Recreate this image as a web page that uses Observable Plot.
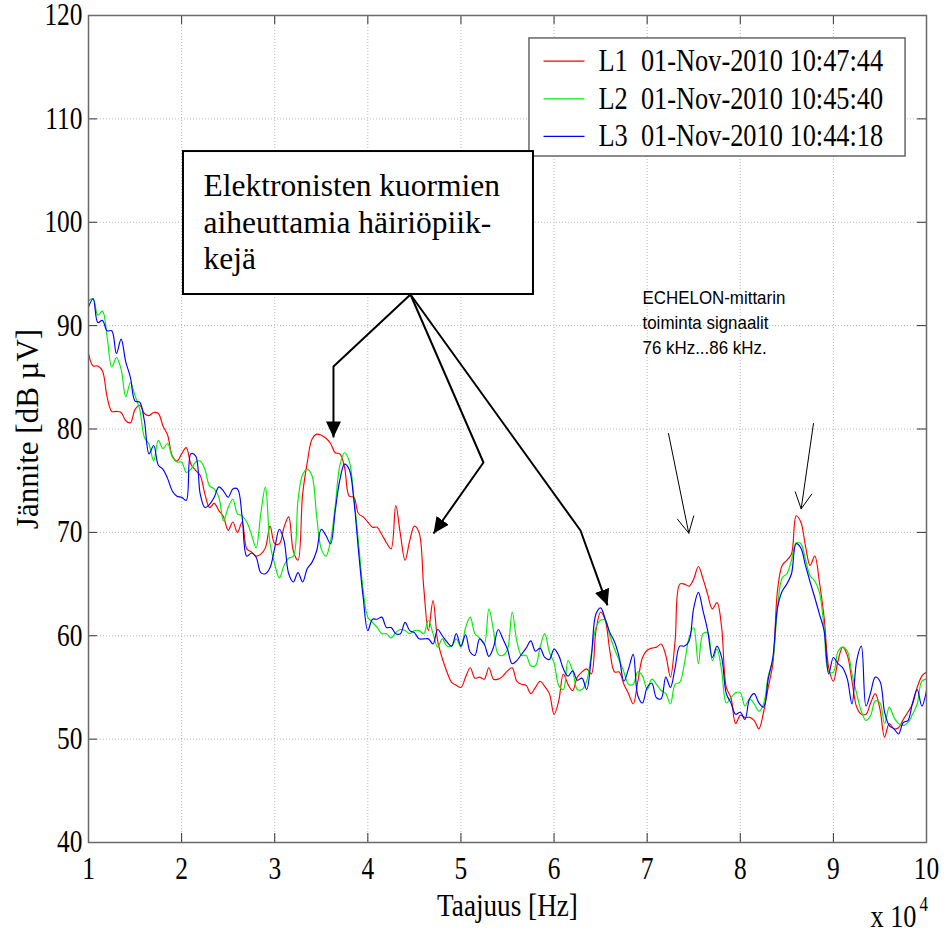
<!DOCTYPE html>
<html>
<head>
<meta charset="utf-8">
<script src="https://cdn.jsdelivr.net/npm/d3@7"></script>
<script src="https://cdn.jsdelivr.net/npm/@observablehq/plot@0.6"></script>
<style>
  html, body { margin: 0; padding: 0; background: #fff; }
  #chart svg text { white-space: pre; }
</style>
</head>
<body>
<div id="chart"></div>
<script>
// Frequency grid in units of 10^4 Hz (10 kHz ... 100 kHz, 500 Hz step)
const freq = d3.range(181).map(i => +(1 + i * 0.05).toFixed(2));

// Measured spectra, dB µV
const L1 = [
  87.3, 86.1, 86.1, 85.6, 83.1, 81.7, 81.7, 81.6, 80.8, 80.6,
  81.9, 82.3, 81.5, 81.3, 81.6, 81.5, 80.3, 79.4, 77.4, 76.9,
  77.6, 78.2, 76.6, 76.0, 75.5, 73.7, 72.4, 72.8, 72.1, 71.5,
  70.2, 71.0, 70.0, 71.0, 68.4, 68.1, 67.7, 67.9, 68.5, 70.6,
  68.9, 68.9, 70.5, 71.5, 68.2, 67.3, 73.7, 76.8, 79.0, 79.5,
  79.4, 79.1, 78.6, 77.7, 77.6, 76.3, 73.5, 73.4, 71.8, 71.5,
  71.0, 70.5, 70.5, 69.8, 69.0, 68.4, 72.6, 69.8, 67.3, 69.2,
  70.6, 70.0, 64.7, 60.5, 63.4, 59.5, 57.8, 56.5, 55.5, 55.2,
  55.0, 56.0, 56.9, 55.9, 56.0, 55.8, 56.9, 55.8, 55.8, 56.1,
  56.6, 56.9, 55.6, 55.3, 55.2, 54.4, 55.0, 55.6, 55.1, 54.4,
  52.4, 53.7, 56.3, 55.3, 54.7, 56.0, 56.5, 56.8, 56.3, 60.5,
  62.3, 61.5, 58.5, 56.5, 56.5, 55.3, 54.4, 53.4, 55.6, 57.9,
  58.6, 58.8, 58.9, 59.2, 58.1, 56.0, 59.5, 65.0, 65.0, 64.8,
  65.5, 66.7, 65.5, 64.0, 62.6, 63.2, 60.8, 55.0, 54.0, 51.5,
  52.3, 52.1, 52.1, 51.8, 51.0, 52.6, 55.0, 57.3, 64.4, 66.8,
  67.3, 67.9, 71.6, 71.0, 68.7, 66.8, 67.7, 65.2, 61.8, 56.9,
  55.6, 57.6, 58.9, 58.1, 55.6, 53.1, 52.4, 52.4, 53.5, 54.4,
  52.9, 50.2, 51.5, 51.0, 51.1, 51.9, 52.6, 53.4, 55.0, 56.1,
  56.5
];
const L2 = [
  92.4, 92.6, 91.0, 91.4, 88.9, 86.0, 86.9, 85.8, 83.1, 84.5,
  83.2, 81.9, 79.2, 78.5, 76.9, 78.9, 78.1, 78.6, 77.3, 76.8,
  76.8, 75.8, 76.1, 76.8, 76.9, 76.1, 74.5, 74.2, 73.4, 71.1,
  72.4, 73.2, 71.8, 71.6, 71.0, 69.8, 68.5, 71.8, 74.4, 68.9,
  66.9, 65.6, 66.8, 67.5, 67.7, 73.1, 75.6, 76.1, 75.5, 71.6,
  68.4, 67.7, 69.2, 72.6, 76.5, 77.7, 76.9, 73.4, 69.0, 64.4,
  61.8, 61.3, 60.8, 60.2, 60.2, 59.8, 60.3, 60.6, 60.5, 60.2,
  60.5, 60.5, 60.2, 61.5, 60.2, 58.9, 59.7, 59.0, 59.0, 59.7,
  58.9, 60.8, 61.8, 60.2, 59.8, 59.2, 62.6, 60.5, 58.2, 58.1,
  58.7, 62.3, 59.5, 58.1, 58.1, 57.1, 57.1, 58.9, 60.2, 58.4,
  57.4, 55.2, 54.8, 57.6, 56.6, 54.8, 54.8, 55.6, 58.2, 60.8,
  61.5, 61.5, 60.0, 58.7, 57.6, 56.5, 55.3, 55.3, 56.5, 56.1,
  54.8, 55.8, 55.3, 54.7, 54.4, 53.4, 55.3, 55.5, 57.3, 59.8,
  60.8, 57.3, 60.2, 60.3, 57.6, 58.7, 56.6, 53.5, 54.0, 54.5,
  54.5, 53.2, 53.9, 53.4, 52.7, 53.4, 56.1, 57.7, 62.7, 65.6,
  66.0, 67.3, 69.0, 68.9, 67.4, 65.8, 65.3, 64.2, 60.8, 56.5,
  56.5, 58.5, 58.9, 58.5, 56.3, 54.4, 52.7, 51.8, 52.3, 53.7,
  53.5, 51.5, 53.1, 52.1, 51.5, 51.3, 51.6, 52.4, 53.4, 55.6,
  55.8
];
const L3 = [
  91.8, 92.6, 90.3, 90.5, 89.5, 89.5, 87.3, 88.7, 86.5, 85.0,
  82.7, 82.6, 80.8, 77.6, 78.4, 76.5, 76.1, 75.2, 74.0, 73.5,
  73.4, 73.1, 77.6, 77.4, 73.7, 72.4, 72.7, 73.4, 74.4, 74.0,
  73.4, 74.2, 74.2, 71.5, 67.7, 68.0, 67.6, 66.1, 66.0, 66.6,
  68.5, 70.3, 69.2, 66.0, 65.2, 66.1, 65.2, 66.5, 67.1, 68.2,
  70.3, 69.7, 68.9, 72.1, 75.1, 76.6, 76.1, 73.1, 68.2, 63.7,
  60.5, 61.6, 61.6, 61.8, 60.8, 60.8, 60.2, 60.2, 61.3, 60.5,
  60.3, 59.7, 59.7, 59.7, 59.2, 60.6, 60.0, 59.4, 59.0, 60.2,
  59.0, 60.1, 58.4, 58.1, 59.7, 59.2, 58.0, 58.9, 60.6, 59.7,
  58.7, 57.3, 57.6, 58.2, 58.8, 59.5, 58.5, 58.8, 57.9, 57.7,
  58.7, 58.1, 56.8, 56.1, 56.6, 55.7, 55.9, 54.8, 57.9, 62.1,
  62.7, 61.6, 60.3, 59.4, 57.9, 55.6, 56.8, 58.2, 54.2, 53.5,
  55.0, 55.4, 54.0, 53.9, 56.0, 55.0, 56.9, 59.0, 59.0, 59.5,
  62.7, 64.2, 62.4, 60.5, 57.9, 59.0, 57.9, 54.4, 53.5, 52.4,
  52.6, 51.9, 53.9, 54.4, 53.5, 53.1, 55.8, 57.9, 62.7, 64.3,
  65.0, 66.0, 68.9, 68.5, 66.8, 65.2, 63.7, 62.1, 60.5, 56.3,
  57.9, 57.3, 56.9, 55.8, 53.4, 57.6, 59.0, 53.2, 54.5, 56.0,
  55.6, 52.6, 51.3, 51.0, 50.5, 51.6, 51.8, 53.5, 54.8, 53.2,
  54.7
];

const seriesNames  = ["L1", "L2", "L3"];
const seriesTimes  = ["01-Nov-2010 10:47:44", "01-Nov-2010 10:45:40", "01-Nov-2010 10:44:18"];
const seriesColors = ["#ff0000", "#00ee00", "#0000ff"];
const seriesValues = [L1, L2, L3];

const xTicks = [1, 2, 3, 4, 5, 6, 7, 8, 9, 10];
const yTicks = [40, 50, 60, 70, 80, 90, 100, 110, 120];

const boxText = "Elektronisten kuormien\naiheuttamia häiriöpiik-\nkejä";
const echelonLines = ["ECHELON-mittarin", "toiminta signaalit", "76 kHz...86 kHz."];

// Callout geometry in data coordinates (x in 10^4 Hz, y in dB µV)
const calloutPaths = [
  [[4.458, 93.01], [3.631, 86.05], [3.631, 79.18]],
  [[4.458, 93.01], [5.242, 76.76], [4.705, 69.89]],
  [[4.458, 93.01], [6.284, 70.18], [6.574, 62.93]]
];
const echelonArrows = [
  {x1: 7.229, y1: 79.56, x2: 7.447, y2: 69.92},
  {x1: 8.786, y1: 80.53, x2: 8.654, y2: 72.28}
];

const calloutRows = calloutPaths.flatMap((p, id) => p.map(([x, y]) => ({id, x, y})));

// Legend placement (data coordinates)
const legendBox = {x1: 5.736, x2: 9.775, y1: 117.78, y2: 106.36};
const legendRowY = i => 115.58 - i * 3.64;
const legendRows = seriesNames.map((name, i) => ({
  label: `${name}  ${seriesTimes[i]}`, color: seriesColors[i], y: legendRowY(i)
}));

const serif = "'Liberation Serif', 'Times New Roman', Times, serif";
const sans = "'Liberation Sans', Arial, Helvetica, sans-serif";

const frameH = 827, frameW = 838, tickLen = 9;

const svg = Plot.plot({
  width: 951,
  height: 930,
  marginLeft: 88,
  marginRight: 25,
  marginTop: 15,
  marginBottom: 88,
  style: {fontFamily: serif, background: "#fff", color: "#000", overflow: "visible"},
  x: {domain: [1, 10], ticks: xTicks},
  y: {domain: [40, 120], ticks: yTicks},
  marks: [
    Plot.gridX(xTicks, {stroke: "#b8b8b8", strokeOpacity: 1, strokeDasharray: "1,2"}),
    Plot.gridY(yTicks, {stroke: "#b8b8b8", strokeOpacity: 1, strokeDasharray: "1,2"}),

    // spectra
    ...seriesValues.map((vals, s) =>
      Plot.line(vals, {
        x: (d, i) => freq[i], y: d => d,
        stroke: seriesColors[s], strokeWidth: 1.15, curve: "catmull-rom"
      })
    ),

    // inward ticks on all four sides
    Plot.tickX(xTicks, {x: d => d, insetTop: frameH - tickLen, stroke: "#333"}),
    Plot.tickX(xTicks, {x: d => d, insetBottom: frameH - tickLen, stroke: "#333"}),
    Plot.tickY(yTicks, {y: d => d, insetRight: frameW - tickLen, stroke: "#333"}),
    Plot.tickY(yTicks, {y: d => d, insetLeft: frameW - tickLen, stroke: "#333"}),
    Plot.frame({stroke: "#6a6a6a", strokeWidth: 1.5}),

    Plot.axisX({ticks: xTicks, tickSize: 0, tickPadding: 14, fontSize: 31, label: null, fontFamily: serif}),
    Plot.axisY({ticks: yTicks, tickSize: 0, tickPadding: 6, fontSize: 31, label: null, fontFamily: serif}),

    // axis titles
    Plot.text(["Taajuus [Hz]"], {frameAnchor: "bottom", dy: 73, lineAnchor: "bottom",
      fontSize: 32, fontFamily: serif, ariaDescription: "narrow"}),
    Plot.text(["Jännite [dB µV]"], {frameAnchor: "left", dx: -60, rotate: -90,
      textAnchor: "middle", lineAnchor: "middle", fontSize: 31, fontFamily: serif}),
    Plot.text(["x 10"], {frameAnchor: "bottom-right", dx: -10, dy: 84, lineAnchor: "bottom",
      textAnchor: "end", fontSize: 31, fontFamily: serif, ariaDescription: "narrow"}),
    Plot.text(["4"], {frameAnchor: "bottom-right", dx: -7, dy: 68, lineAnchor: "bottom",
      textAnchor: "start", fontSize: 20, fontFamily: serif, ariaDescription: "narrow"}),

    // legend
    Plot.rect([legendBox], {x1: "x1", x2: "x2", y1: "y1", y2: "y2",
      fill: "#fff", stroke: "#666", strokeWidth: 1.5}),
    Plot.link(legendRows, {x1: 5.887, x2: 6.327, y1: "y", y2: "y",
      stroke: d => d.color, strokeWidth: 1.2}),
    Plot.text(legendRows, {x: 6.477, y: "y", text: "label", textAnchor: "start",
      lineAnchor: "middle", fontSize: 31, fontFamily: serif, ariaDescription: "narrow"}),

    // callout box with arrows
    Plot.line(calloutRows, {x: "x", y: "y", z: "id", stroke: "#000", strokeWidth: 2,
      strokeLinecap: "butt", strokeLinejoin: "miter", markerEnd: "arrow"}),
    Plot.rect([{x1: 2.020, x2: 5.779, y1: 106.84, y2: 93.01}], {x1: "x1", x2: "x2", y1: "y1", y2: "y2",
      fill: "#fff", stroke: "#000", strokeWidth: 2}),
    Plot.text([boxText], {x: 2.235, y: 105.07, textAnchor: "start", lineAnchor: "top",
      lineHeight: 1.165, fontSize: 31.5, fontFamily: serif}),

    // ECHELON note
    Plot.text(echelonLines, {x: 6.95, y: (d, i) => 93.42 - i * 2.418, textAnchor: "start",
      lineAnchor: "top", fontSize: 19, fontFamily: sans, ariaDescription: "narrow-sans"}),
    Plot.arrow(echelonArrows, {x1: "x1", y1: "y1", x2: "x2", y2: "y2",
      stroke: "#000", strokeWidth: 1, headLength: 27, headAngle: 55})
  ]
});

document.getElementById("chart").append(svg);

// filled arrowheads for the callout lines
svg.querySelectorAll("marker").forEach(m => {
  m.setAttribute("viewBox", "-10 -5 10 10");
  m.setAttribute("markerWidth", 8);
  m.setAttribute("markerHeight", 8);
  m.setAttribute("fill", "#000");
  m.setAttribute("stroke", "none");
  const p = m.querySelector("path");
  if (p) p.setAttribute("d", "M-10,-4.7L0,0L-10,4.7Z");
});

// narrow lettering for the plot's own texts
function squeeze(selector, k) {
  svg.querySelectorAll(selector).forEach(t => {
    const w = t.getComputedTextLength();
    if (w > 0) {
      t.setAttribute("textLength", (w * k).toFixed(1));
      t.setAttribute("lengthAdjust", "spacingAndGlyphs");
    }
  });
}
squeeze('g[aria-label="x-axis tick label"] text, g[aria-label="y-axis tick label"] text', 0.82);
squeeze('g[aria-description="narrow"] text', 0.85);
squeeze('g[aria-description="narrow-sans"] text', 0.89);
</script>
</body>
</html>
